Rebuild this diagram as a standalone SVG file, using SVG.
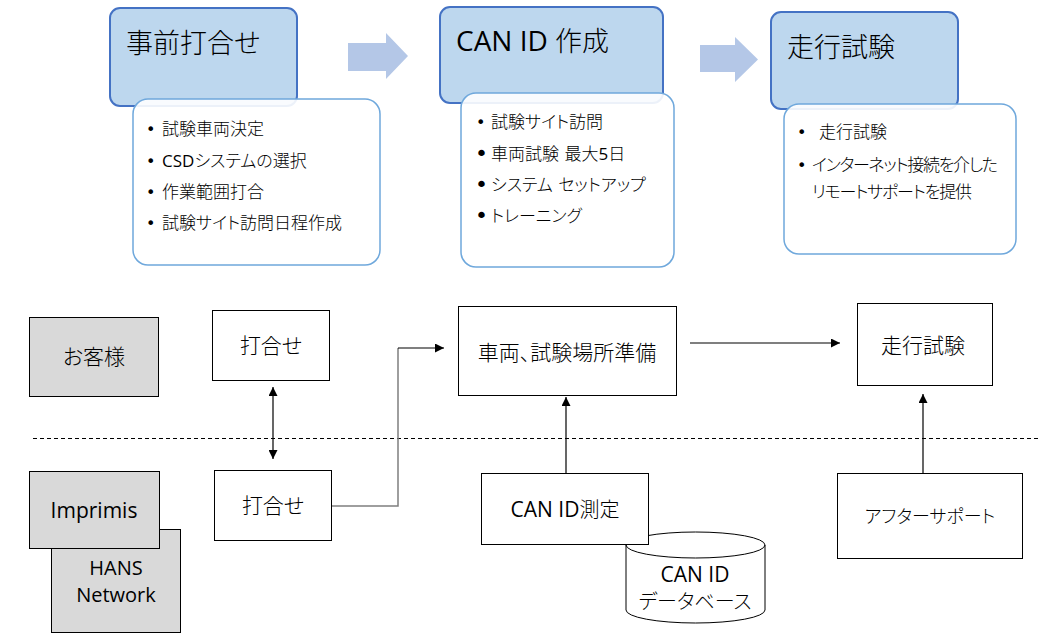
<svg xmlns="http://www.w3.org/2000/svg" width="1038" height="642" viewBox="0 0 1038 642">
<style>
text { font-family: "DejaVu Sans", "Noto Sans CJK JP", sans-serif; fill: #000; font-feature-settings: "palt" 1; }
.title { font-size: 27px; font-weight: 300; }
.bul { font-size: 16px; }
.li { font-size: 17px; font-weight: 300; }
.lbl { font-size: 20px; text-anchor: middle; font-weight: 300; }
.lat { font-family: "Open Sans", "DejaVu Sans", sans-serif; font-weight: 400; }
.stage { fill: #BDD7EE; stroke: #4472C4; stroke-width: 2; }
.card { fill: #FFFFFF; fill-opacity: 0.9; stroke: #6FA8DC; stroke-width: 1.5; }
.flow { fill: #B4C7E7; }
.box { fill: #FFFFFF; stroke: #000; stroke-width: 1; }
.gbox { fill: #D9D9D9; stroke: #000; stroke-width: 1; }
.conn { fill: none; stroke: #000; stroke-width: 1.2; }
</style>
<defs>
<marker id="ah" viewBox="0 0 10 10" refX="10" refY="5" markerWidth="10" markerHeight="9" markerUnits="userSpaceOnUse" orient="auto-start-reverse">
<path d="M0,0 L10,5 L0,10 Z" fill="#000"/>
</marker>
</defs>

<!-- Top stages -->
<g id="stage1">
<rect class="stage" x="110" y="8" width="187" height="98" rx="10"/>
<text class="title" x="126" y="53">事前打合せ</text>
</g>
<g id="card1">
<rect class="card" x="133" y="99" width="247" height="166" rx="15"/>
<text class="bul" x="146" y="135">•</text><text class="li" x="162" y="135">試験車両決定</text>
<text class="bul" x="146" y="167">•</text><text class="li" x="162" y="167"><tspan class="lat">CSD</tspan>システムの選択</text>
<text class="bul" x="146" y="198">•</text><text class="li" x="162" y="198">作業範囲打合</text>
<text class="bul" x="146" y="229">•</text><text class="li" x="162" y="229">試験サイト訪問日程作成</text>
</g>
<g id="flow1"><path class="flow" d="M348,43 H386 V33 L408,56 L386,79 V71 H348 Z"/></g>

<g id="stage2">
<rect class="stage" x="440" y="7" width="223" height="96" rx="10"/>
<text class="title" x="456" y="51"><tspan class="lat" style="font-size:28px">CAN ID </tspan>作成</text>
</g>
<g id="card2">
<rect class="card" x="461" y="93" width="213" height="174" rx="15"/>
<text class="bul" x="476" y="128">•</text><text class="li" x="491" y="128">試験サイト訪問</text>
<text class="bul" x="475" y="161" style="font-size:22px">•</text><text class="li" x="491" y="160">車両試験 最大<tspan class="lat">5</tspan>日</text>
<text class="bul" x="475" y="192" style="font-size:22px">•</text><text class="li" x="491" y="191">システム セットアップ</text>
<text class="bul" x="475" y="223" style="font-size:22px">•</text><text class="li" x="491" y="222">トレーニング</text>
</g>
<g id="flow2"><path class="flow" d="M700,45 H735 V37 L758,59.5 L735,82 V72 H700 Z"/></g>

<g id="stage3">
<rect class="stage" x="771" y="12" width="187" height="97" rx="10"/>
<text class="title" x="787" y="57">走行試験</text>
</g>
<g id="card3">
<rect class="card" x="784" y="104" width="232" height="150" rx="15"/>
<text class="bul" x="797" y="138">•</text><text class="li" x="819" y="138">走行試験</text>
<text class="bul" x="797" y="171">•</text><text class="li" x="812" y="171" textLength="186">インターネット接続を介した</text>
<text class="li" x="812" y="198" textLength="160">リモートサポートを提供</text>
</g>

<!-- Swimlane divider -->
<line x1="33" y1="438.5" x2="1038" y2="438.5" stroke="#000" stroke-width="1" stroke-dasharray="4 3"/>

<!-- Lower nodes -->
<g id="customer">
<rect class="gbox" x="29.5" y="317.5" width="129" height="79"/>
<text class="lbl" x="94" y="364" style="font-size:21px">お客様</text>
</g>
<g id="hans">
<rect class="gbox" x="51.5" y="529.5" width="129" height="103"/>
<text class="lbl lat" x="116" y="575">HANS</text>
<text class="lbl lat" x="116" y="602">Network</text>
</g>
<g id="imprimis">
<rect class="gbox" x="29.5" y="471.5" width="130" height="77"/>
<text class="lbl lat" x="94" y="518" style="font-size:21px">Imprimis</text>
</g>
<g id="meeting-customer">
<rect class="box" x="212.5" y="310.5" width="117" height="70"/>
<text class="lbl" x="271" y="353" style="font-size:21px">打合せ</text>
</g>
<g id="meeting-imprimis">
<rect class="box" x="214.5" y="470.5" width="117" height="70"/>
<text class="lbl" x="273" y="513" style="font-size:21px">打合せ</text>
</g>
<g id="prep">
<rect class="box" x="458.5" y="306.5" width="218" height="89"/>
<text class="lbl" x="567" y="360" style="font-size:21px">車両、試験場所準備</text>
</g>
<g id="candb">
<path d="M626,545 A69.5,13 0 0 1 765,545 V610 A69.5,13 0 0 1 626,610 Z" fill="#FFFFFF" stroke="#000" stroke-width="1"/>
<path d="M626,545 A69.5,13 0 0 0 765,545" fill="none" stroke="#000" stroke-width="1"/>
<text class="lbl lat" x="695" y="582" style="font-size:21px">CAN ID</text>
<text class="lbl" x="695" y="609">データベース</text>
</g>
<g id="canid">
<rect class="box" x="481.5" y="473.5" width="167" height="71"/>
<text class="lbl" x="565" y="517"><tspan class="lat" style="font-size:21px">CAN ID</tspan>測定</text>
</g>
<g id="drive">
<rect class="box" x="857.5" y="303.5" width="135" height="82"/>
<text class="lbl" x="923" y="353" style="font-size:21px">走行試験</text>
</g>
<g id="aftersupport">
<rect class="box" x="837.5" y="473.5" width="185" height="85"/>
<text class="lbl" x="930" y="523" style="font-size:18px">アフターサポート</text>
</g>

<!-- Connectors -->
<g id="connectors">
<line class="conn" x1="273" y1="387" x2="273" y2="459" marker-start="url(#ah)" marker-end="url(#ah)"/>
<path d="M332,506 H398 V348" fill="none" stroke="#7F7F7F" stroke-width="1.5"/>
<path class="conn" d="M398,348 H444" marker-end="url(#ah)"/>
<line class="conn" x1="566" y1="473" x2="566" y2="397" marker-end="url(#ah)"/>
<line class="conn" x1="690" y1="343" x2="840" y2="343" marker-end="url(#ah)"/>
<line class="conn" x1="923" y1="473" x2="923" y2="394" marker-end="url(#ah)"/>
</g>
</svg>
